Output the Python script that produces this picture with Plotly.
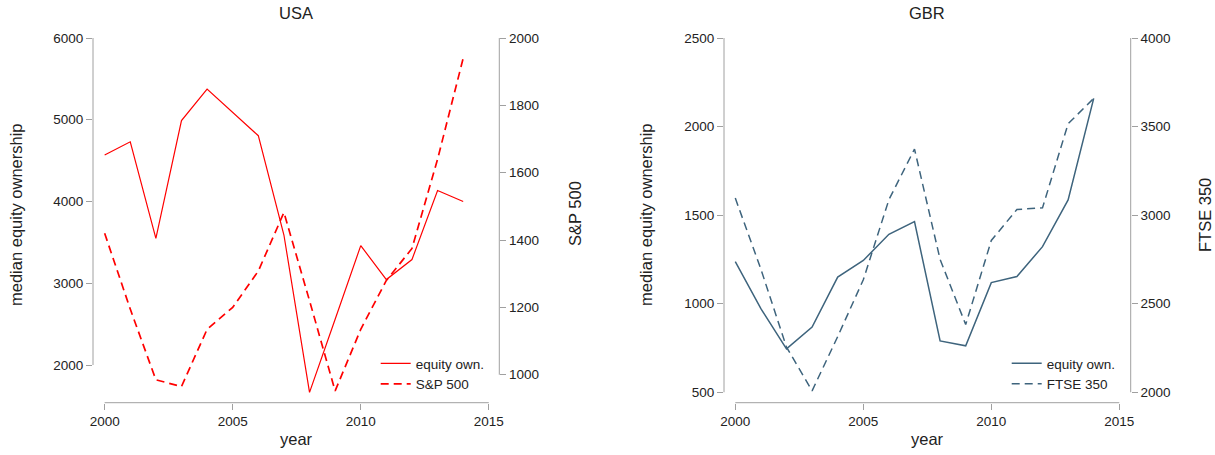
import plotly.graph_objects as go

# ---------------- data ----------------
years = list(range(2000, 2015))
usa_equity = [4570, 4730, 3550, 4990, 5375, 5090, 4805, 3590, 1665, 2560, 3460, 3045, 3290, 4135, 4000]
usa_sp500 = [1420, 1195, 985, 965, 1135, 1200, 1308, 1482, 1220, 952, 1135, 1280, 1375, 1640, 1940]
gbr_equity = [1238, 972, 745, 868, 1150, 1244, 1392, 1463, 790, 762, 1119, 1153, 1322, 1586, 2159]
gbr_ftse350 = [3096, 2695, 2255, 2008, 2314, 2635, 3087, 3373, 2750, 2382, 2857, 3032, 3041, 3516, 3659]

x_ticks = [2000, 2005, 2010, 2015]
usa_left_ticks = [2000, 3000, 4000, 5000, 6000]
usa_right_ticks = [1000, 1200, 1400, 1600, 1800, 2000]
gbr_left_ticks = [500, 1000, 1500, 2000, 2500]
gbr_right_ticks = [2000, 2500, 3000, 3500, 4000]

# ---------------- style ----------------
W, H = 1215, 455
FONT = "Liberation Sans, Arial, Helvetica, sans-serif"
RED = "#ff0000"
BLUE = "#3e647d"
AXC = "#a0a0a0"
TXT = "#222222"

def px_x(p):
    return p / W

def px_y(p):
    return 1 - p / H

top, bottom = 38, 402.7
ydom = [px_y(bottom), px_y(top)]
usa_dom = [px_x(93), px_x(499.3)]
gbr_dom = [px_x(724), px_x(1130.7)]

fig = go.Figure()

fig.add_trace(go.Scatter(x=years, y=usa_equity, mode="lines", name="equity own.",
                         line=dict(color=RED, width=1.2), xaxis="x", yaxis="y", legend="legend"))
fig.add_trace(go.Scatter(x=years, y=usa_sp500, mode="lines", name="S&P 500",
                         line=dict(color=RED, width=1.7, dash="8px,5px"), xaxis="x", yaxis="y2", legend="legend"))
fig.add_trace(go.Scatter(x=years, y=gbr_equity, mode="lines", name="equity own.",
                         line=dict(color=BLUE, width=1.5), xaxis="x2", yaxis="y3", legend="legend2"))
fig.add_trace(go.Scatter(x=years, y=gbr_ftse350, mode="lines", name="FTSE 350",
                         line=dict(color=BLUE, width=1.5, dash="8px,5px"), xaxis="x2", yaxis="y4", legend="legend2"))

tickfont = dict(family=FONT, size=13.5, color=TXT)
common = dict(showgrid=False, zeroline=False, showline=False, ticks="outside",
              ticklen=6, tickwidth=1, tickcolor=AXC, tickfont=tickfont, fixedrange=True,
              automargin=False)

fig.update_layout(
    template="none",
    width=W, height=H,
    margin=dict(l=0, r=0, t=0, b=0, pad=0, autoexpand=False),
    paper_bgcolor="white", plot_bgcolor="white",
    font=dict(family=FONT, color=TXT),
    xaxis=dict(domain=usa_dom, range=[1999.545, 2015.41], tickvals=x_ticks, anchor="y", **common),
    yaxis=dict(domain=ydom, range=[1539, 6000], tickvals=usa_left_ticks, anchor="x", **common),
    yaxis2=dict(range=[917, 2000], tickvals=usa_right_ticks, overlaying="y", side="right",
                anchor="x", **common),
    xaxis2=dict(domain=gbr_dom, range=[1999.559, 2015.445], tickvals=x_ticks, anchor="y3", **common),
    yaxis3=dict(domain=ydom, range=[441, 2500], tickvals=gbr_left_ticks, anchor="x2", **common),
    yaxis4=dict(range=[1941, 4000], tickvals=gbr_right_ticks, overlaying="y3", side="right",
                anchor="x2", **common),
    legend=dict(x=px_x(375.7), y=px_y(348), xanchor="left", yanchor="top",
                bgcolor="rgba(0,0,0,0)", borderwidth=0,
                font=dict(family=FONT, size=13.5, color=TXT), tracegroupgap=0),
    legend2=dict(x=px_x(1006.7), y=px_y(348), xanchor="left", yanchor="top",
                 bgcolor="rgba(0,0,0,0)", borderwidth=0,
                 font=dict(family=FONT, size=13.5, color=TXT), tracegroupgap=0),
    showlegend=True,
)

# axis lines spanning only the tick range (Stata style)
shapes = []
def vline(xref, xpos, yref, y0, y1):
    shapes.append(dict(type="line", xref=xref, x0=xpos, x1=xpos, yref=yref, y0=y0, y1=y1,
                       line=dict(color=AXC, width=1), layer="below"))
def hline(xref, x0, x1, yref):
    shapes.append(dict(type="line", xref=xref, x0=x0, x1=x1, yref=yref, y0=0, y1=0,
                       line=dict(color=AXC, width=1), layer="below"))

vline("x domain", 0, "y", min(usa_left_ticks), max(usa_left_ticks))
vline("x domain", 1, "y2", min(usa_right_ticks), max(usa_right_ticks))
hline("x", min(x_ticks), max(x_ticks), "y domain")
vline("x2 domain", 0, "y3", min(gbr_left_ticks), max(gbr_left_ticks))
vline("x2 domain", 1, "y4", min(gbr_right_ticks), max(gbr_right_ticks))
hline("x2", min(x_ticks), max(x_ticks), "y3 domain")
fig.update_layout(shapes=shapes)

# titles
def ann(text, x, y, angle=0, size=16.5):
    fig.add_annotation(text=text, x=px_x(x), y=px_y(y), xref="paper", yref="paper",
                       showarrow=False, textangle=angle, xanchor="center", yanchor="middle",
                       font=dict(family=FONT, size=size, color=TXT))

ann("USA", 296, 13)
ann("GBR", 927, 13)
ann("year", 296.5, 439)
ann("year", 927.5, 439)
ann("median equity ownership", 16, 215, -90)
ann("S&P 500", 575, 214, -90)
ann("median equity ownership", 646, 215, -90)
ann("FTSE 350", 1205, 215, -90)

fig.write_html("out.html")
